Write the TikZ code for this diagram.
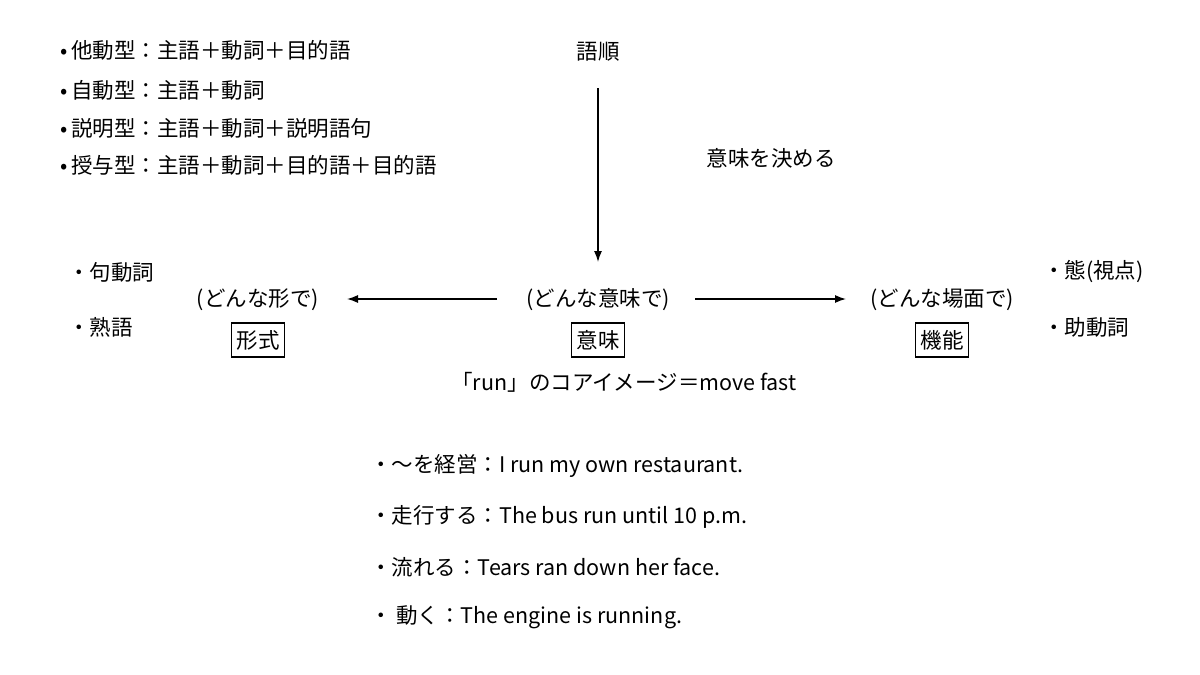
\documentclass[tikz,border=0pt]{standalone}
\usepackage{fontspec}
\setmainfont{Noto Sans CJK JP}
\usetikzlibrary{arrows.meta}
\begin{document}
\begin{tikzpicture}[x=1pt,y=-1pt,
  t/.style={inner sep=0pt,font=\fontsize{21.5}{26}\selectfont},
  tl/.style={t,anchor=west},
  bx/.style={t,draw,line width=1.5pt,inner xsep=5pt,inner ysep=7pt},
  ar/.style={-{Latex[length=11pt,width=8pt]},line width=1.3pt}]
\useasboundingbox (0,0) rectangle (1200,675);
\node[tl] (b1) at (60,50) {•\,他動型：主語＋動詞＋目的語};
\node[tl] (b2) at (60,90) {•\,自動型：主語＋動詞};
\node[tl] (b3) at (60,128) {•\,説明型：主語＋動詞＋説明語句};
\node[tl] (b4) at (60,165) {•\,授与型：主語＋動詞＋目的語＋目的語};
\node[t] (order) at (598,52) {語順};
\node[t] (decide) at (771,158) {意味を決める};
\node[tl] (l1) at (68,272) {・句動詞};
\node[tl] (l2) at (68,327) {・熟語};
\node[t] (q1) at (258,300) {(どんな形で)};
\node[bx] (form) at (258,340) {形式};
\node[t] (q2) at (598,300) {(どんな意味で)};
\node[bx] (mean) at (598,340) {意味};
\node[t] (q3) at (942,300) {(どんな場面で)};
\node[bx] (func) at (942,340) {機能};
\node[tl] (r1) at (1043,272) {・態(視点)};
\node[tl] (r2) at (1043,327) {・助動詞};
\node[t] (core) at (624,382) {「run」のコアイメージ＝move fast};
\coordinate (top) at (598,88);
\coordinate (bot) at (598,262);
\coordinate (la) at (497,299);
\coordinate (lb) at (347,299);
\coordinate (ra) at (695,299);
\coordinate (rb) at (846,299);
\draw[ar] (top) -- (bot);
\draw[ar] (la) -- (lb);
\draw[ar] (ra) -- (rb);
\node[tl] (e1) at (370,466) {・〜を経営：I run my own restaurant.};
\node[tl] (e2) at (370,517) {・走行する：The bus run until 10 p.m.};
\node[tl] (e3) at (370,567) {・流れる：Tears ran down her face.};
\node[tl] (e4) at (370,617) {・ 動く：The engine is running.};
\end{tikzpicture}
\end{document}
